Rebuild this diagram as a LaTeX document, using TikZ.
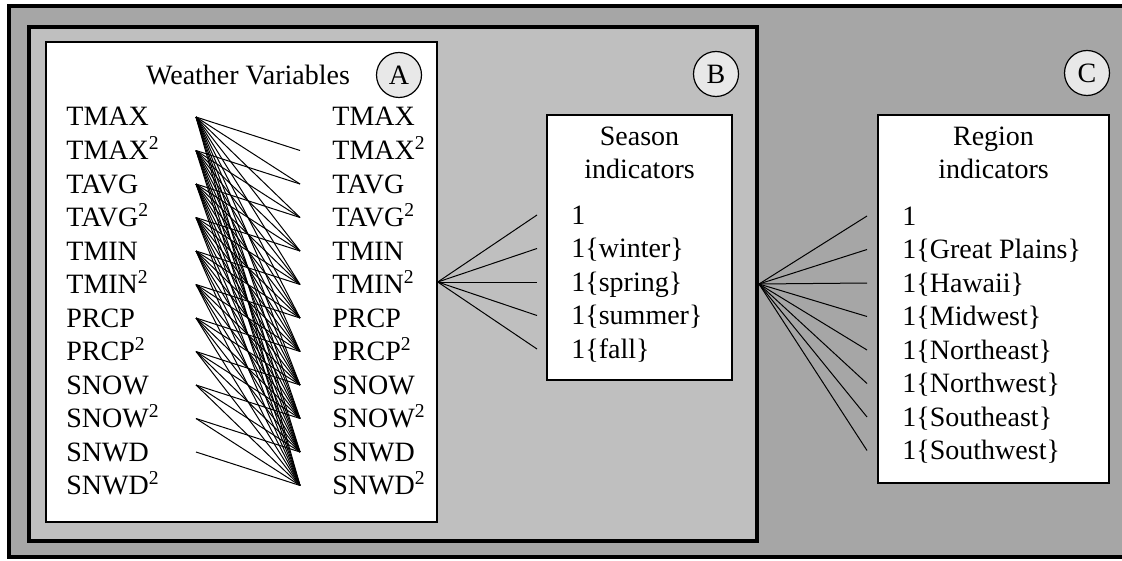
\documentclass[tikz,border=0pt]{standalone}
\usepackage{fontspec}
\setmainfont{Liberation Serif}
\definecolor{darkpanel}{gray}{0.65}
\definecolor{lightpanel}{gray}{0.75}
\definecolor{badgefill}{gray}{0.91}
\tikzset{
    panel/.style={draw=black, line width=2pt, inner sep=0pt},
    whitebox/.style={draw=black, line width=0.75pt, fill=white, inner sep=0pt},
    badge/.style={circle, draw=black, line width=0.6pt, fill=badgefill,
        minimum size=22.5pt, inner sep=0pt},
    item/.style={anchor=base west, inner sep=0pt},
    fan/.style={line width=0.5pt}
}

\begin{document}
\begin{tikzpicture}[x=0.5pt, y=-0.5pt, font=\fontsize{14pt}{16.75pt}\selectfont]
    \path[use as bounding box, clip] (0,0) rectangle (1122,561);
    % the nested panels
    \node[panel, fill=darkpanel, minimum width=558.5pt, minimum height=275.25pt] (outer) at (567.5,281.75) {};
    \node[panel, fill=lightpanel, minimum width=364pt, minimum height=257pt] (inner) at (393,284) {};
    \node[whitebox, minimum width=195.5pt, minimum height=240pt] (weather) at (241.5,282) {};
    \node[whitebox, minimum width=92.5pt, minimum height=132.5pt] (season) at (639.5,247.5) {};
    \node[whitebox, minimum width=115.5pt, minimum height=184pt] (region) at (993.5,299) {};
    % \draw[red] (0,0) grid[step=50] (1122,561); % check the layout
    \node[badge] (badgeA) at (399,75) {A};
    \node[badge] (badgeB) at (716,74) {B};
    \node[badge] (badgeC) at (1087,73) {C};
    \node (weathertitle) at (248,75) {Weather Variables};
    \node[align=center] (seasontitle) at (639.5,153) {Season\\indicators};
    \node[align=center] (regiontitle) at (993.5,153) {Region\\indicators};
    % weather variables, left and right column
    \foreach \name [count=\i] in {TMAX, TMAX\textsuperscript{2}, TAVG, TAVG\textsuperscript{2},
        TMIN, TMIN\textsuperscript{2}, PRCP, PRCP\textsuperscript{2}, SNOW, SNOW\textsuperscript{2},
        SNWD, SNWD\textsuperscript{2}} {
        \pgfmathsetmacro\rowy{117+33.5*(\i-1)}
        \node[item] (wl\i) at (66,\rowy+9) {\name};
        \node[item] (wr\i) at (332,\rowy+9) {\name};
        \coordinate (wa\i) at (196,\rowy);
        \coordinate (wb\i) at (300,\rowy);
    }
    \foreach \i in {1,...,11} {
        \pgfmathtruncatemacro\nxt{\i+1}
        \foreach \j in {\nxt,...,12}
            \draw[fan] (wa\i) -- (wb\j);
    }
    % season indicators
    \foreach \name [count=\i] in {1, 1\{winter\}, 1\{spring\}, 1\{summer\}, 1\{fall\}} {
        \pgfmathsetmacro\rowy{215+33.5*(\i-1)}
        \node[item] (sn\i) at (571,\rowy+9) {\name};
        \coordinate (se\i) at (537,\rowy);
        \draw[fan] (weather.east) -- (se\i);
    }
    % region indicators
    \foreach \name [count=\i] in {1, 1\{Great Plains\}, 1\{Hawaii\}, 1\{Midwest\},
        1\{Northeast\}, 1\{Northwest\}, 1\{Southeast\}, 1\{Southwest\}} {
        \pgfmathsetmacro\rowy{216+33.5*(\i-1)}
        \node[item] (rg\i) at (902,\rowy+9) {\name};
        \coordinate (re\i) at (867,\rowy);
        \draw[fan] (inner.east) -- (re\i);
    }
\end{tikzpicture}
\end{document}
